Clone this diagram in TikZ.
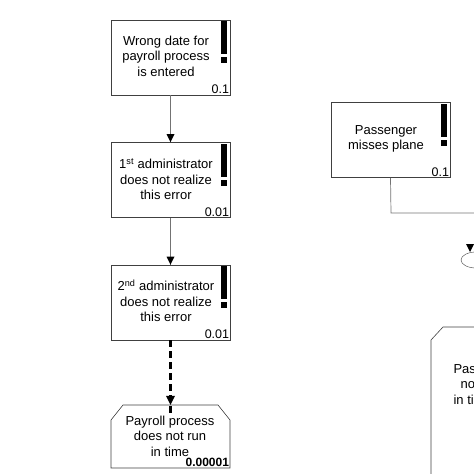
\documentclass[tikz,border=0pt]{standalone}
\usepackage{fontspec}
\setmainfont{Liberation Sans}
\usetikzlibrary{shapes.geometric,arrows.meta}
\begin{document}
\begin{tikzpicture}[x=1pt,y=-1pt,
  box/.style={draw=black!75,line width=0.6pt,minimum width=119pt,minimum height=75pt,inner sep=0pt},
  txt/.style={font=\fontsize{13}{15.5}\selectfont,align=center},
  num/.style={font=\fontsize{12.5}{13}\selectfont,anchor=south east,inner sep=1pt},
  conn/.style={draw=black!55,line width=0.7pt}]
\useasboundingbox (0,0) rectangle (474,474);
\clip (0,0) rectangle (474,474);
\tikzset{excl/.pic={\fill (-3,0) rectangle (3,33); \fill (-3,36) rectangle (3,42);}}
% left chain
\node[box] (b1) at (170.5,57.5) {};
\node[txt] (t1) at (166,56) {Wrong date for\\payroll process\\is entered};
\node[num] (n1) at (b1.south east) {0.1};
\pic at (224,21) {excl};
\node[box] (b2) at (170.5,180) {};
\node[txt] (t2) at (166,179) {1\textsuperscript{st} administrator\\does not realize\\this error};
\node[num] (n2) at (b2.south east) {0.01};
\pic at (224,144) {excl};
\node[box] (b3) at (170.5,302.5) {};
\node[txt] (t3) at (166,301) {2\textsuperscript{nd} administrator\\does not realize\\this error};
\node[num] (n3) at (b3.south east) {0.01};
\pic at (224,266) {excl};
\draw[fill=white,draw=black!75,line width=0.6pt] (111,420) -- (123,405) -- (218,405) -- (230,420) -- (230,468) -- (111,468) -- cycle;
\node[minimum width=119pt,minimum height=63pt,inner sep=0pt] (b4) at (170.5,436.5) {};
\node[txt] (t4) at (170,436) {Payroll process\\does not run\\in time};
\node[num,font=\bfseries\fontsize{12}{13}\selectfont] (n4) at (b4.south east) {0.00001};
\draw[conn] (b1.south) -- (b2.north);
\fill (b2.north) -- ++(-4,-8) -- ++(8,0) -- cycle;
\draw[conn] (b2.south) -- (b3.north);
\fill (b3.north) -- ++(-4,-8) -- ++(8,0) -- cycle;
\draw[black,line width=2.2pt,dash pattern=on 7pt off 4pt] (b3.south) -- ([yshift=-8pt]b4.north);
\fill (b4.north) -- ++(-4.5,-9) -- ++(9,0) -- cycle;
% right part
\node[box] (r1) at (390.5,140) {};
\node[txt] (rt1) at (386,139) {Passenger\\misses plane};
\node[num] (rn1) at (r1.south east) {0.1};
\pic at (444,104) {excl};
\coordinate (c1) at (391,213);
\coordinate (c2) at (480,213);
\draw[conn] (r1.south) -- (c1) -- (c2);
\node[draw=black!75,ellipse,minimum width=30pt,minimum height=16pt,inner sep=0pt] (g) at (476,260) {};
\coordinate (gt) at (470,252);
\fill (gt) -- ++(-4,-8) -- ++(8,0) -- cycle;
\draw[fill=white,draw=black!75,line width=0.6pt] (431,340) -- (443,327) -- (500,327) -- (500,480) -- (431,480) -- cycle;
\node[txt,align=left,anchor=north west] (rt2) at (450,361) {Passenger\\\hspace*{7pt}not on\\in time};
\end{tikzpicture}
\end{document}
